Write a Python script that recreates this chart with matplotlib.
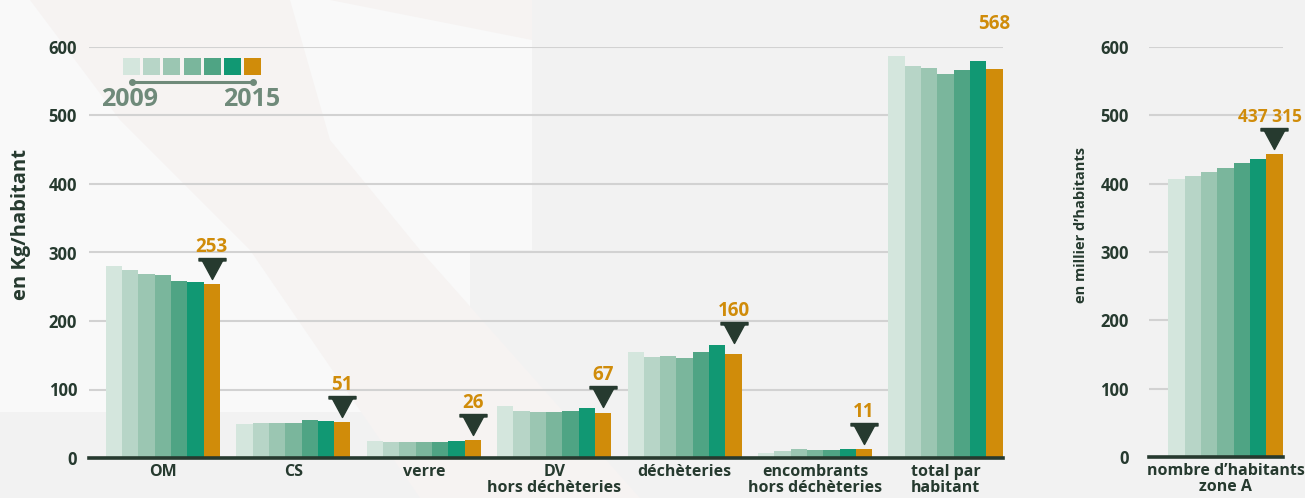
import numpy as np
import matplotlib
matplotlib.use("Agg")
import matplotlib.pyplot as plt
from matplotlib.path import Path
from matplotlib.patches import Rectangle, Polygon
from matplotlib.lines import Line2D

# -----------------------------
# Data (kg / habitant, 2009 -> 2015)
# -----------------------------
years = [2009, 2010, 2011, 2012, 2013, 2014, 2015]
categories = ["OM", "CS", "verre", "DV\nhors déchèteries", "déchèteries",
              "encombrants\nhors déchèteries", "total par\nhabitant"]

om = [280, 274, 269, 267, 258, 257, 254]
cs = [49, 51, 51, 51, 55, 54, 52]
verre = [25, 23.5, 23.5, 23.5, 23.5, 25, 26]
dv = [76, 69, 67, 67, 69, 73, 66]
decheteries = [155, 148, 149, 146, 155, 165, 152]
encombrants = [8, 10, 13, 12, 12, 13, 13]
total = [587, 572, 569, 561, 566, 580, 568]
labels_2015 = ["253", "51", "26", "67", "160", "11", "568"]

# population (milliers d'habitants)
habitants = [407, 411, 417, 423, 430, 436, 443]
habitants_label = "437 315"
habitants_cat = "nombre d\u2019habitants\nzone A"

series = [om, cs, verre, dv, decheteries, encombrants, total]

# -----------------------------
# Style
# -----------------------------
colors = ["#d4e6dd", "#b7d5c7", "#9bc6b2", "#7ab69c", "#4fa484", "#119873", "#d08c0a"]
dark = "#263a2f"
orange = "#d08c0a"
legend_grey = "#6f8a7a"
grid_col = "#d2d2d2"

plt.rcParams["font.family"] = ["Open Sans", "DejaVu Sans"]
plt.rcParams["font.weight"] = "bold"

W, H = 1305, 498
fig = plt.figure(figsize=(W / 100, H / 100), dpi=100)
fig.patch.set_facecolor("#f2f2f2")


def px(x, y):
    return (x / W, 1 - y / H)


def deco(pts, col, z):
    fig.patches.append(Polygon([px(a, b) for a, b in pts], closed=True,
                               transform=fig.transFigure, facecolor=col,
                               edgecolor="none", zorder=z))


# background decoration (pale swooshes)
deco([(0, 0), (532, 0), (532, 250), (470, 250), (470, 412), (0, 412)], "#f9f9f9", -3)
deco([(30, 0), (290, 0), (330, 140), (420, 250), (640, 498), (420, 498),
      (250, 250), (120, 120)], "#f6f3f2", -2)
deco([(330, 0), (532, 0), (532, 40)], "#f6f3f2", -2)

bw = 0.125

# triangle marker: bar on top, tip pointing down; origin 5px under the tip
verts = [(-13.5, 26), (13.5, 26), (13.5, 23.5), (-13.5, 23.5), (-13.5, 26),
         (-10, 23.5), (10, 23.5), (0, 5), (-10, 23.5)]
codes = [Path.MOVETO, Path.LINETO, Path.LINETO, Path.LINETO, Path.CLOSEPOLY,
         Path.MOVETO, Path.LINETO, Path.LINETO, Path.CLOSEPOLY]
tri_marker = Path(verts, codes)
tri_ms = 2 * 26 * 0.72


def style_axis(ax, pad):
    for s in ax.spines.values():
        s.set_visible(False)
    ax.patch.set_visible(False)
    ax.set_ylim(0, 600)
    ax.set_yticks([0, 100, 200, 300, 400, 500, 600])
    ax.yaxis.grid(True, color=grid_col, lw=1.5)
    ax.set_axisbelow(True)
    ax.tick_params(axis="y", length=0, pad=pad, labelsize=12, labelcolor=dark)
    ax.tick_params(axis="x", length=0, pad=4, labelsize=11.5, labelcolor=dark)
    ax.axhline(0, color=dark, lw=2.6, zorder=5, clip_on=False)


def mark(ax, x, y, text, with_tri=True, off=32, size=13.5, dx=0):
    if with_tri:
        ax.plot([x], [y], marker=tri_marker, ms=tri_ms, color=dark,
                linestyle="none", zorder=6, clip_on=False)
    ax.annotate(text, (x, y), xytext=(dx * 0.72, off * 0.72),
                textcoords="offset points", ha="center", va="baseline",
                color=orange, fontsize=size, fontweight="bold",
                annotation_clip=False)


# -----------------------------
# Main chart
# -----------------------------
ax = fig.add_axes([89 / W, 40 / H, 914 / W, 411 / H])
style_axis(ax, 8.6)
x = np.arange(len(categories))
for j in range(len(years)):
    vals = [s[j] for s in series]
    ax.bar(x + (j - 3) * bw, vals, width=bw, color=colors[j], zorder=3, linewidth=0)
ax.set_xlim(-0.567, 6.441)
ax.set_xticks(x)
ax.set_xticklabels(categories, linespacing=1.05)

for i, s in enumerate(series):
    xi = i + 3 * bw
    yi = max(float(labels_2015[i]), s[-1])
    if i == len(series) - 1:
        mark(ax, xi, yi, labels_2015[i], with_tri=False, off=40)
    else:
        mark(ax, xi, yi, labels_2015[i])

# -----------------------------
# Population chart
# -----------------------------
ax2 = fig.add_axes([1149 / W, 41 / H, 134 / W, 410 / H])
style_axis(ax2, 14.4)
for j in range(len(years)):
    ax2.bar((j - 3) * bw, habitants[j], width=bw, color=colors[j], zorder=3, linewidth=0)
ax2.set_xlim(-0.587, 0.441)
ax2.set_xticks([0])
ax2.set_xticklabels([habitants_cat], linespacing=1.05)
mark(ax2, 3 * bw, habitants[-1], habitants_label, size=12.5, dx=-4)

fig.text(*px(21, 224), "en Kg/habitant", rotation=90, ha="center", va="center",
         fontsize=14.5, color=dark, fontweight="bold")
fig.text(*px(1081, 225), "en millier d\u2019habitants", rotation=90, ha="center",
         va="center", fontsize=10.5, color=dark, fontweight="bold")

# -----------------------------
# Year legend (colour ramp)
# -----------------------------
for j, c in enumerate(colors):
    x0 = 123 + j * 20.2
    fig.patches.append(Rectangle(px(x0, 75), 17 / W, 17 / H,
                                 transform=fig.transFigure, facecolor=c,
                                 edgecolor="none"))
fig.add_artist(Line2D([131.5 / W, 253 / W], [1 - 82 / H, 1 - 82 / H],
                      transform=fig.transFigure, color=legend_grey, lw=2.2,
                      marker="o", ms=4, markevery=[0, 1]))
fig.text(*px(130, 99), str(years[0]), ha="center", va="center", fontsize=18,
         color=legend_grey, fontweight="bold")
fig.text(*px(252, 99), str(years[-1]), ha="center", va="center", fontsize=18,
         color=legend_grey, fontweight="bold")

fig.savefig("out.png", dpi=100, facecolor=fig.get_facecolor())
